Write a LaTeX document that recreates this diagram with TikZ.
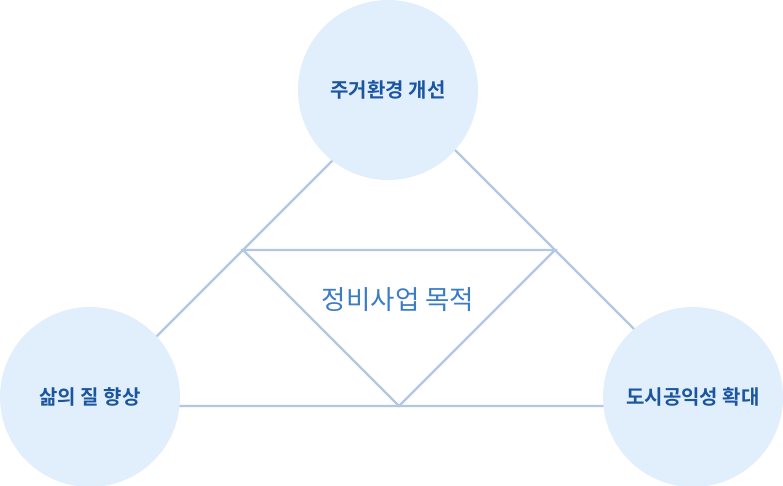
\documentclass[tikz,border=0pt]{standalone}
\usepackage{fontspec}
\newfontfamily\kr{Noto Sans CJK KR}
\newfontfamily\krb{Noto Sans CJK KR Bold}
\definecolor{linec}{HTML}{B3C7E2}
\definecolor{circfill}{HTML}{E1EEFC}
\definecolor{labc}{HTML}{1B55A0}
\definecolor{centc}{HTML}{3A7CC6}
\begin{document}
\begin{tikzpicture}[x=1pt,y=-1pt,
  conn/.style={draw=linec,line width=2.2pt},
  goal/.style={circle,fill=circfill,minimum size=180pt,inner sep=0pt,text=labc,font=\krb\fontsize{20}{24}\selectfont}]
\useasboundingbox (0,0) rectangle (783,486);
\coordinate (A) at (399,94);
\coordinate (L) at (87,406);
\coordinate (R) at (711,406);
\coordinate (mL) at (243,250);
\coordinate (mR) at (555,250);
\coordinate (mB) at (399,406);
\draw[conn] (A) -- (L) -- (R) -- cycle;
\draw[conn] (mL) -- (mR) -- (mB) -- cycle;
\node[goal] (top) at (388,90) {주거환경 개선};
\node[goal] (left) at (90,397) {삶의 질 향상};
\node[goal] (right) at (693,397) {도시공익성 확대};
\node[text=centc,font=\kr\fontsize{26.5}{30}\selectfont] (center) at (398,300) {정비사업 목적};
\end{tikzpicture}
\end{document}
